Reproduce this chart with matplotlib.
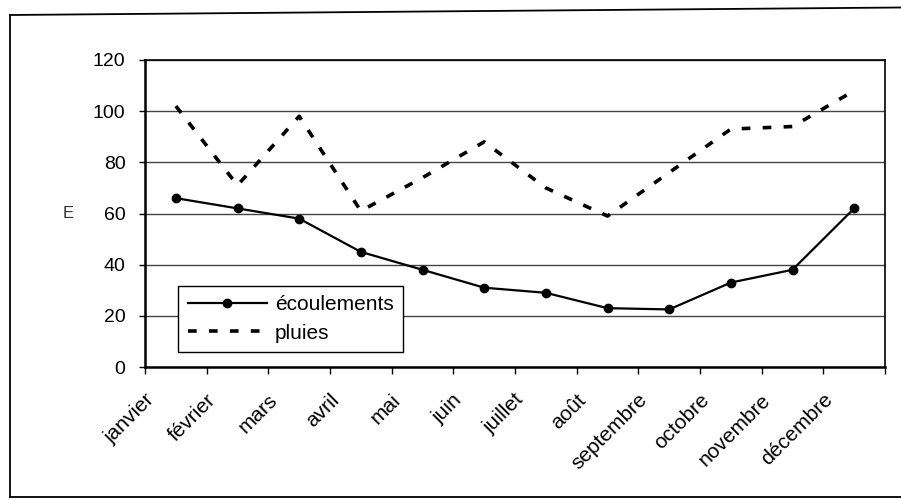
import matplotlib
matplotlib.use("Agg")
import matplotlib.pyplot as plt
from matplotlib.lines import Line2D
from matplotlib.transforms import ScaledTranslation
import numpy as np

plt.rcParams["font.family"] = ["Liberation Sans", "DejaVu Sans"]

mois = ["janvier", "février", "mars", "avril", "mai", "juin", "juillet",
        "août", "septembre", "octobre", "novembre", "décembre"]
ecoulements = [66, 62, 58, 45, 38, 31, 29, 23, 22.5, 33, 38, 62]
pluies = [102, 71, 98, 61, 74, 88, 70, 59, 76, 93, 94, 108]
y_ticks = [0, 20, 40, 60, 80, 100, 120]

fig = plt.figure(figsize=(9.01, 5.0), dpi=100)
ax = fig.add_axes([145 / 901, 133 / 500, 740 / 901, 307 / 500])

# cadre extérieur (haut, gauche, bas)
for xs, ys in [([10 / 901, 1.0], [0.97, 0.985]),
               ([10 / 901, 10 / 901], [0.006, 0.97]),
               ([10 / 901, 1.0], [0.006, 0.006])]:
    fig.add_artist(Line2D(xs, ys, color="black", lw=1.3))

x = np.arange(len(mois)) + 0.5
ax.plot(x, ecoulements, color="black", lw=1.6, marker="o", ms=6,
        label="écoulements")
ax.plot(x, pluies, color="black", lw=2.6, dashes=(2.4, 3.4), label="pluies")

ax.set_xlim(0, 12)
ax.set_ylim(0, 120)
ax.set_yticks(y_ticks)
ax.yaxis.grid(True, color="#444444", lw=1.0)
ax.set_axisbelow(True)

# étiquettes de mois décalées comme dans Excel
ax.set_xticks(np.arange(13))
ax.set_xticklabels([])
trans = ax.get_xaxis_transform() + ScaledTranslation(6 / 100, -30 / 100,
                                                     fig.dpi_scale_trans)
for i, m in enumerate(mois):
    ax.text(i, 0, m, transform=trans, rotation=45, ha="right", va="center",
            rotation_mode="anchor", fontsize=15)

ax.tick_params(axis="y", labelsize=14, length=4, width=1, pad=10)
ax.tick_params(axis="x", length=5, width=1)
for s in ["left", "bottom"]:
    ax.spines[s].set_linewidth(1.8)
for s in ["top", "right"]:
    ax.spines[s].set_linewidth(1.2)

ax.set_ylabel("E", rotation=0, fontsize=12, color="#333333", labelpad=18,
              va="center")

leg = ax.legend(loc="lower left", bbox_to_anchor=(0.045, 0.049),
                fontsize=15, handlelength=3.8, handletextpad=0.4,
                borderpad=0.45, labelspacing=0.45, fancybox=False,
                framealpha=1, edgecolor="black", borderaxespad=0)
leg.get_frame().set_linewidth(1.0)

fig.savefig("out.png", dpi=100)
